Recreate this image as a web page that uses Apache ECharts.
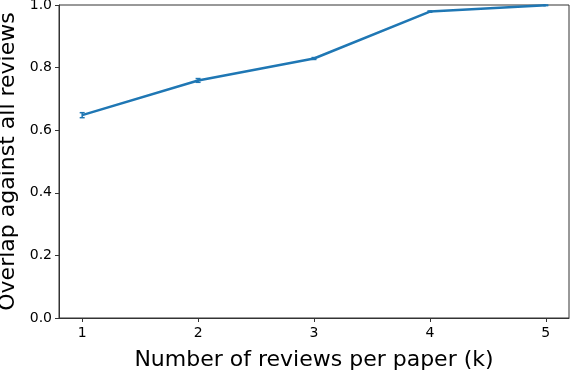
<!DOCTYPE html>
<html><head><meta charset="utf-8">
<script src="https://cdn.jsdelivr.net/npm/echarts@6/dist/echarts.min.js"></script>
<style>html,body{margin:0;padding:0;background:#fff}#c{width:570px;height:372px}</style>
</head><body><div id="c"></div>
<script>
const kValues = [1, 2, 3, 4, 5];
const overlap = [0.648, 0.759, 0.829, 0.979, 0.999];
const errs = [0.008, 0.006, 0.003, 0.002, 0.001];
const xTicks = [1, 2, 3, 4, 5];
const yTicks = [0, 0.2, 0.4, 0.6, 0.8, 1.0];

const chart = echarts.init(document.getElementById('c'));
const color = '#1f77b4';
const font = 'DejaVu Sans';
const axisColor = '#333';
chart.setOption({
  animation: false,
  grid: {left: 59, right: 1, top: 5, bottom: 54, show: true, borderColor: axisColor, borderWidth: 1,
         outerBoundsMode: 'none', containLabel: false},
  xAxis: {
    type: 'value', min: 0.8, max: 5.2,
    name: 'Number of reviews per paper (k)', nameLocation: 'middle', nameGap: 31,
    nameTextStyle: {fontFamily: font, fontSize: 22, color: '#000'},
    axisLine: {show: true, onZero: false, lineStyle: {color: axisColor}},
    axisTick: {show: true, customValues: xTicks, length: 4, lineStyle: {color: axisColor}},
    axisLabel: {customValues: xTicks, fontFamily: font, fontSize: 14, color: '#000', margin: 8},
    splitLine: {show: false}
  },
  yAxis: {
    type: 'value', min: 0, max: 1, interval: 0.2,
    name: 'Overlap against all reviews', nameLocation: 'middle', nameGap: 36,
    nameTextStyle: {fontFamily: font, fontSize: 22, color: '#000'},
    axisLine: {show: true, lineStyle: {color: axisColor}},
    axisTick: {show: true, customValues: yTicks, length: 4, lineStyle: {color: axisColor}},
    axisLabel: {customValues: yTicks, fontFamily: font, fontSize: 14, color: '#000', margin: 7, formatter: v => v.toFixed(1)},
    splitLine: {show: false}
  },
  series: [
    {type: 'line', data: kValues.map((k, i) => [k, overlap[i]]), symbol: 'none',
     lineStyle: {color: color, width: 2.5}, itemStyle: {color: color}, z: 3},
    {type: 'custom', z: 4,
     data: kValues.map((k, i) => [k, overlap[i] - errs[i], overlap[i] + errs[i]]),
     renderItem: function (params, api) {
       const x = api.value(0);
       const lo = api.coord([x, api.value(1)]);
       const hi = api.coord([x, api.value(2)]);
       const w = 2.5;
       const st = {stroke: color, lineWidth: 1.5};
       return {type: 'group', children: [
         {type: 'line', shape: {x1: lo[0], y1: lo[1], x2: hi[0], y2: hi[1]}, style: st},
         {type: 'line', shape: {x1: lo[0]-w, y1: lo[1], x2: lo[0]+w, y2: lo[1]}, style: st},
         {type: 'line', shape: {x1: hi[0]-w, y1: hi[1], x2: hi[0]+w, y2: hi[1]}, style: st}
       ]};
     }}
  ]
});
</script></body></html>
